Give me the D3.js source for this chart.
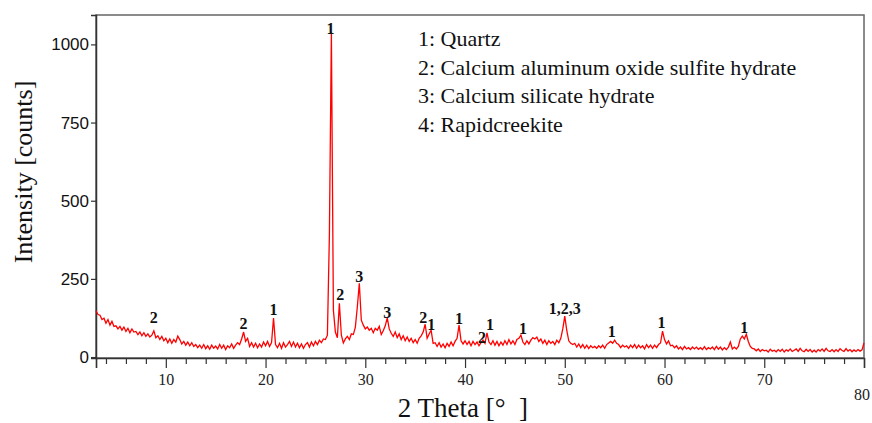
<!DOCTYPE html>
<html lang="en">
<head>
    <meta charset="UTF-8">
    <title>XRD pattern (D3.js)</title>
    <script src="https://d3js.org/d3.v7.min.js"></script>
    <style>
        body {
            margin: 0;
            background: white;
        }
    </style>
</head>
<body>
    <svg width="872" height="423"></svg>

    <script>
        // sampled every 0.2 deg starting at 3.0 deg, one row = 2 deg
        const thetaStart = 3.0;
        const thetaStep = 0.2;
        const counts = [
            148, 136, 134, 120, 124, 108, 120, 102, 114, 98,    // 3
            100, 90, 98, 86, 96, 82, 92, 78, 90, 80,            // 5
            82, 72, 80, 68, 78, 66, 74, 64, 70, 84,             // 7
            62, 68, 56, 66, 52, 60, 46, 58, 44, 56,             // 9
            48, 67, 56, 42, 50, 38, 48, 36, 46, 34,             // 11
            40, 30, 38, 28, 40, 27, 36, 25, 38, 28,             // 13
            35, 26, 40, 28, 38, 24, 36, 30, 42, 28,             // 15
            38, 46, 40, 58, 80, 50, 60, 34, 46, 32,             // 17
            44, 30, 42, 32, 48, 36, 50, 34, 46, 125,            // 19
            40, 30, 44, 28, 46, 32, 40, 50, 34, 48,             // 21
            32, 44, 30, 42, 28, 40, 46, 32, 48, 36,             // 23
            50, 40, 54, 46, 58, 56, 70, 390, 1038, 150,         // 25
            80, 62, 172, 70, 45, 58, 66, 56, 74, 72,            // 27
            95, 160, 236, 118, 102, 90, 96, 86, 92, 78,         // 29
            92, 86, 98, 72, 84, 100, 125, 90, 76, 66,           // 31
            80, 62, 74, 56, 68, 52, 64, 50, 60, 46,             // 33
            56, 44, 60, 68, 80, 105, 60, 74, 86, 44,            // 35
            46, 34, 46, 32, 42, 30, 44, 34, 48, 36,             // 37
            50, 60, 102, 52, 42, 52, 40, 50, 36, 50,            // 39
            40, 48, 36, 46, 54, 44, 77, 48, 40, 52,             // 41
            38, 50, 36, 48, 38, 52, 40, 56, 42, 52,             // 43
            40, 56, 60, 70, 48, 40, 52, 42, 54, 62,             // 45
            58, 64, 50, 58, 44, 54, 40, 52, 44, 50,             // 47
            40, 54, 46, 60, 90, 131, 85, 52, 44, 40,            // 49
            44, 32, 42, 30, 40, 28, 38, 27, 36, 30,             // 51
            34, 28, 36, 30, 38, 28, 40, 45, 50, 44,             // 53
            54, 44, 40, 30, 38, 32, 36, 28, 38, 30,             // 55
            40, 28, 38, 30, 36, 26, 40, 30, 38, 28,             // 57
            38, 30, 40, 45, 83, 56, 42, 52, 36, 38,             // 59
            30, 36, 26, 32, 24, 34, 26, 30, 24, 32,             // 61
            26, 32, 25, 30, 24, 33, 24, 30, 26, 32,             // 63
            24, 34, 25, 32, 23, 30, 24, 32, 48, 26,             // 65
            32, 26, 34, 58, 67, 58, 73, 50, 34, 28,             // 67
            26, 20, 26, 18, 24, 20, 22, 16, 25, 19,             // 69
            22, 17, 24, 18, 25, 16, 23, 19, 26, 18,             // 71
            22, 26, 18, 28, 20, 17, 25, 18, 24, 16,             // 73
            22, 16, 24, 19, 26, 18, 28, 20, 18, 24,             // 75
            17, 24, 18, 27, 21, 18, 27, 19, 24, 17,             // 77
            23, 18, 24, 19, 23, 45                              // 79
        ];

        // phase markers above peaks
        const peakText  = ["2", "2", "1", "1", "2", "3", "3", "2", "1", "1", "2", "1", "1", "1,2,3", "1", "1", "1"];
        const peakTheta = [8.8, 17.8, 20.8, 26.5, 27.5, 29.4, 32.2, 35.8, 36.6, 39.4, 41.7, 42.5, 45.8, 50.0, 54.7, 59.7, 68.0];
        const peakCount = [128, 109, 153, 1052, 201, 259, 144, 128, 105, 125, 64, 105, 93, 157, 83, 112, 96];

        const legendLines = [
            "1: Quartz",
            "2: Calcium aluminum oxide sulfite hydrate",
            "3: Calcium silicate hydrate",
            "4: Rapidcreekite"
        ];

        const yTicks = [0, 250, 500, 750, 1000];
        const xMajorTicks = [10, 20, 30, 40, 50, 60, 70, 80];
        const xMinorTicks = [4, 6, 8, 12, 14, 16, 18, 22, 24, 26, 28, 32, 34, 36, 38, 42, 44, 46, 48,
                             52, 54, 56, 58, 62, 64, 66, 68, 72, 74, 76, 78];

        const serif = '"Liberation Serif", "Times New Roman", serif';
        const sans = '"Liberation Sans", Arial, sans-serif';

        const svg = d3.select("svg");

        const xScale = d3.scaleLinear().domain([3, 80]).range([96, 864]);
        const yScale = d3.scaleLinear().domain([-3, 1094]).range([358, 15]);

        const pattern = counts.map((c, i) => ({ theta: thetaStart + i * thetaStep, count: c }));

        // frame
        svg.append("rect")
           .attr("x", xScale(3))
           .attr("y", yScale(1094))
           .attr("width", xScale(80) - xScale(3))
           .attr("height", yScale(-3) - yScale(1094))
           .attr("fill", "none")
           .attr("stroke", "#666")
           .attr("stroke-width", 1.5);

        // y axis
        const yAxis = svg.append("g")
           .attr("transform", `translate(${xScale(3)},0)`)
           .call(d3.axisLeft(yScale).tickValues(yTicks).tickSize(5).tickPadding(2).tickFormat(d3.format("d")));
        yAxis.select(".domain").attr("stroke", "#333").attr("stroke-width", 1.5);
        yAxis.selectAll(".tick line").attr("stroke", "#333").attr("stroke-width", 1.2);
        yAxis.selectAll(".tick text")
             .style("font-family", sans)
             .style("font-size", "17px")
             .attr("fill", "#111");

        // x axis, minor then major ticks
        const xMinor = svg.append("g")
           .attr("transform", `translate(0,${yScale(-3)})`)
           .call(d3.axisBottom(xScale).tickValues(xMinorTicks).tickSize(6).tickFormat(""));
        xMinor.select(".domain").remove();
        xMinor.selectAll(".tick line").attr("stroke", "#333").attr("stroke-width", 1.2);

        const xAxis = svg.append("g")
           .attr("transform", `translate(0,${yScale(-3)})`)
           .call(d3.axisBottom(xScale).tickValues([3].concat(xMajorTicks)).tickSize(10).tickPadding(8)
                 .tickFormat(d => d === 3 ? "" : d));
        xAxis.select(".domain").attr("stroke", "#333").attr("stroke-width", 1.5);
        xAxis.selectAll(".tick line").attr("stroke", "#333").attr("stroke-width", 1.2);
        xAxis.selectAll(".tick text")
             .style("font-family", serif)
             .style("font-size", "16px")
             .attr("fill", "#222")
             .attr("y", d => d === 80 ? 31 : 16)
             .attr("dx", d => d === 80 ? "-0.15em" : 0);

        // pattern line
        const line = d3.line()
            .x(d => xScale(d.theta))
            .y(d => yScale(d.count));

        svg.append("path")
           .datum(pattern)
           .attr("fill", "none")
           .attr("stroke", "#ff0000")
           .attr("stroke-width", 1.3)
           .attr("stroke-linejoin", "miter")
           .attr("d", line);

        // peak markers
        svg.selectAll(".peak-label")
           .data(peakText)
           .enter()
           .append("text")
           .attr("class", "peak-label")
           .attr("x", (d, i) => xScale(peakTheta[i]))
           .attr("y", (d, i) => yScale(peakCount[i]))
           .attr("dy", "0.35em")
           .attr("text-anchor", "middle")
           .style("font-family", serif)
           .style("font-weight", "bold")
           .style("font-size", "16px")
           .attr("fill", "#111")
           .text(d => d);

        // legend
        svg.selectAll(".legend")
           .data(legendLines)
           .enter()
           .append("text")
           .attr("class", "legend")
           .attr("x", 418)
           .attr("y", (d, i) => 46 + i * 28.7)
           .style("font-family", serif)
           .style("font-size", "22px")
           .attr("fill", "#111")
           .text(d => d);

        // axis titles
        svg.append("text")
           .attr("x", 463)
           .attr("y", 417)
           .attr("text-anchor", "middle")
           .style("font-family", serif)
           .style("font-size", "27px")
           .style("white-space", "pre")
           .attr("fill", "#111")
           .text("2 Theta [\u00B0  ]");

        svg.append("text")
           .attr("transform", "translate(32,172) rotate(-90)")
           .attr("text-anchor", "middle")
           .style("font-family", serif)
           .style("font-size", "26px")
           .attr("fill", "#111")
           .text("Intensity [counts]");
    </script>
</body>
</html>
